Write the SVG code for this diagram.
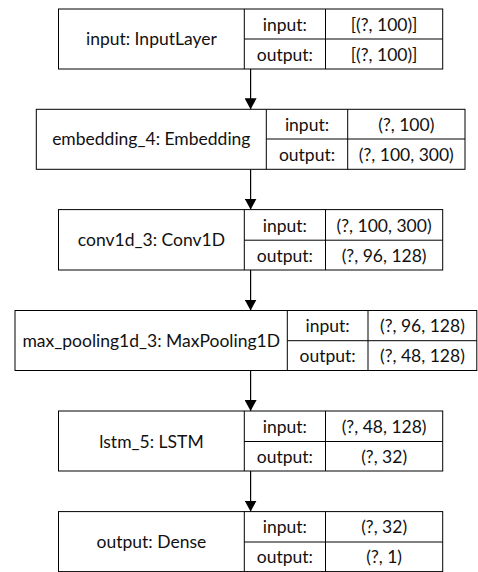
<svg xmlns="http://www.w3.org/2000/svg" width="478" height="572" viewBox="0 0 478 572">
<defs>
<style>
.box{fill:#fff;stroke:#000;stroke-width:1}
.ln{stroke:#000;stroke-width:1;fill:none}
text{font-family:Lato,"Open Sans","Liberation Sans",sans-serif;font-size:17.5px;fill:#111;text-anchor:middle}
.edge{stroke:#000;stroke-width:1.2;fill:none;marker-end:url(#ah)}
</style>
<marker id="ah" markerUnits="userSpaceOnUse" markerWidth="11" markerHeight="12" refX="11" refY="6" orient="auto" viewBox="0 0 11 12">
<path d="M0,0 L11,6 L0,12 z" fill="#000"/>
</marker>
</defs>
<rect width="478" height="572" fill="#fff"/>
<g id="connectors">
<line class="edge" x1="250.6" y1="69" x2="250.6" y2="109.3"/>
<line class="edge" x1="250.6" y1="169.3" x2="250.6" y2="209.6"/>
<line class="edge" x1="250.6" y1="270" x2="250.6" y2="310.5"/>
<line class="edge" x1="250.6" y1="370.5" x2="250.6" y2="411"/>
<line class="edge" x1="250.6" y1="471" x2="250.6" y2="511.6"/>
</g>
<g id="input">
<rect class="box" x="58.5" y="9" width="384.2" height="60"/>
<line class="ln" x1="244.3" y1="9" x2="244.3" y2="69"/>
<line class="ln" x1="325.5" y1="9" x2="325.5" y2="69"/>
<line class="ln" x1="244.3" y1="39" x2="442.7" y2="39"/>
<text x="151.4" y="45">input: InputLayer</text>
<text x="284.9" y="30.5">input:</text>
<text x="284.9" y="60.5">output:</text>
<text x="384.1" y="30.5">[(?, 100)]</text>
<text x="384.1" y="60.5">[(?, 100)]</text>
</g>
<g id="embedding_4">
<rect class="box" x="36.3" y="109.3" width="428.7" height="60"/>
<line class="ln" x1="266.3" y1="109.3" x2="266.3" y2="169.3"/>
<line class="ln" x1="347.7" y1="109.3" x2="347.7" y2="169.3"/>
<line class="ln" x1="266.3" y1="139" x2="465" y2="139"/>
<text x="151.3" y="145">embedding_4: Embedding</text>
<text x="307" y="130.8">input:</text>
<text x="307" y="160.8">output:</text>
<text x="406.3" y="130.8">(?, 100)</text>
<text x="406.3" y="160.8">(?, 100, 300)</text>
</g>
<g id="conv1d_3">
<rect class="box" x="58.5" y="209.6" width="384.2" height="60.4"/>
<line class="ln" x1="244.3" y1="209.6" x2="244.3" y2="270"/>
<line class="ln" x1="325.5" y1="209.6" x2="325.5" y2="270"/>
<line class="ln" x1="244.3" y1="240.2" x2="442.7" y2="240.2"/>
<text x="151.4" y="246">conv1d_3: Conv1D</text>
<text x="284.9" y="231.5">input:</text>
<text x="284.9" y="261.5">output:</text>
<text x="384.1" y="231.5">(?, 100, 300)</text>
<text x="384.1" y="261.5">(?, 96, 128)</text>
</g>
<g id="max_pooling1d_3">
<rect class="box" x="15" y="310.5" width="461.8" height="60"/>
<line class="ln" x1="287.3" y1="310.5" x2="287.3" y2="370.5"/>
<line class="ln" x1="368" y1="310.5" x2="368" y2="370.5"/>
<line class="ln" x1="287.3" y1="340.7" x2="476.8" y2="340.7"/>
<text x="151.2" y="346.5">max_pooling1d_3: MaxPooling1D</text>
<text x="327.6" y="332">input:</text>
<text x="327.6" y="362">output:</text>
<text x="422.4" y="332">(?, 96, 128)</text>
<text x="422.4" y="362">(?, 48, 128)</text>
</g>
<g id="lstm_5">
<rect class="box" x="58.5" y="411" width="384.2" height="60"/>
<line class="ln" x1="244.3" y1="411" x2="244.3" y2="471"/>
<line class="ln" x1="325.5" y1="411" x2="325.5" y2="471"/>
<line class="ln" x1="244.3" y1="441.5" x2="442.7" y2="441.5"/>
<text x="151.4" y="447.5">lstm_5: LSTM</text>
<text x="284.9" y="432.5">input:</text>
<text x="284.9" y="462.5">output:</text>
<text x="384.1" y="432.5">(?, 48, 128)</text>
<text x="384.1" y="462.5">(?, 32)</text>
</g>
<g id="output">
<rect class="box" x="58.5" y="511.6" width="384.2" height="60"/>
<line class="ln" x1="244.3" y1="511.6" x2="244.3" y2="571.6"/>
<line class="ln" x1="325.5" y1="511.6" x2="325.5" y2="571.6"/>
<line class="ln" x1="244.3" y1="542" x2="442.7" y2="542"/>
<text x="151.4" y="548">output: Dense</text>
<text x="284.9" y="533">input:</text>
<text x="284.9" y="563">output:</text>
<text x="384.1" y="533">(?, 32)</text>
<text x="384.1" y="563">(?, 1)</text>
</g>
</svg>
